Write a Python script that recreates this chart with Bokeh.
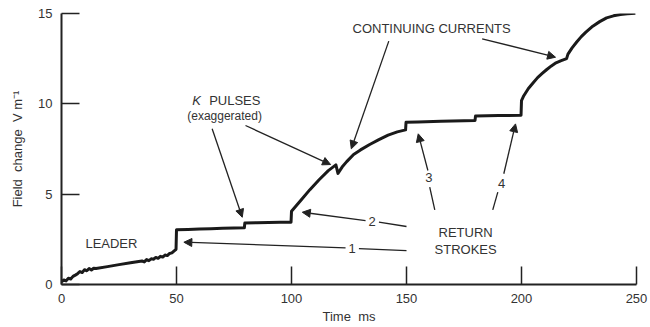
from bokeh.plotting import figure
from bokeh.models import Label, Arrow, NormalHead, Range1d, FixedTicker, ColumnDataSource
from bokeh.embed import file_html
from bokeh.resources import INLINE

# ---- data -------------------------------------------------------------
time_ms = [0, 1, 2, 3, 4, 5, 6, 7, 8, 9, 10, 11, 12, 13, 14, 15, 20, 25, 30, 35,
           36, 37, 38, 39, 40, 41, 42, 43, 44, 45, 46, 47, 48, 49, 49.8,
           50, 55, 60, 65, 70, 75, 79.5,
           79.7, 85, 90, 95, 99.8,
           100, 104, 108, 112, 116, 119.3,
           120.2, 122, 124, 127, 130, 134, 138, 142, 146, 149.6,
           149.8, 155, 165, 175, 179.8,
           180, 190, 199.8,
           200, 201, 203, 205, 207, 209, 211, 213, 215, 217, 219.6,
           220.2, 222, 224, 226, 228, 231, 234, 237, 240, 243, 246, 249.5]
field_vm = [0.15, 0.25, 0.2, 0.35, 0.3, 0.45, 0.52, 0.6, 0.72, 0.66, 0.82, 0.76, 0.88, 0.8, 0.9, 0.88, 0.99, 1.1, 1.2, 1.3,
            1.25, 1.38, 1.32, 1.42, 1.4, 1.5, 1.45, 1.56, 1.52, 1.63, 1.6, 1.72, 1.75, 1.86, 1.95,
            3.03, 3.05, 3.07, 3.09, 3.11, 3.13, 3.14,
            3.4, 3.42, 3.43, 3.44, 3.45,
            4.05, 4.65, 5.25, 5.8, 6.3, 6.62,
            6.15, 6.5, 6.8, 7.2, 7.45, 7.75, 8.02, 8.27, 8.45, 8.56,
            8.98, 9.0, 9.04, 9.06, 9.08,
            9.32, 9.35, 9.37,
            10.18, 10.45, 10.85, 11.15, 11.45, 11.68, 11.9, 12.1, 12.27, 12.38, 12.5,
            12.75, 13.1, 13.42, 13.72, 13.97, 14.3, 14.55, 14.76, 14.87, 14.94, 14.98, 15.02]

x_ticks = [0, 50, 100, 150, 200, 250]
y_ticks = [0, 5, 10, 15]

FONT = "Liberation Sans"
INK = "#222222"
TXT = "#333333"

p = figure(width=650, height=327, output_backend="svg", toolbar_location=None,
           x_range=Range1d(0, 250), y_range=Range1d(0, 15),
           min_border_left=61, min_border_right=14, min_border_top=13, min_border_bottom=43)
p.outline_line_color = None
p.grid.visible = False
p.background_fill_color = "white"
p.border_fill_color = "white"

for ax, ticks in ((p.xaxis, x_ticks), (p.yaxis, y_ticks)):
    ax.ticker = FixedTicker(ticks=ticks)
    ax.major_tick_in = 18
    ax.major_tick_out = 0
    ax.minor_tick_line_color = None
    ax.axis_line_width = 2
    ax.axis_line_color = INK
    ax.major_tick_line_width = 1.5
    ax.major_tick_line_color = INK
    ax.major_label_text_font = FONT
    ax.major_label_text_font_size = "13px"
    ax.major_label_text_color = TXT
    ax.axis_label_text_font = FONT
    ax.axis_label_text_font_size = "13px"
    ax.axis_label_text_font_style = "normal"
    ax.axis_label_text_color = TXT

p.xaxis.axis_label = "Time\u00a0\u00a0ms"
p.xaxis.major_label_standoff = 9
p.xaxis.axis_label_standoff = 3
p.yaxis.axis_label = "Field\u00a0\u00a0change\u00a0\u00a0V m\u207b\u00b9"
p.yaxis.major_label_standoff = 9
p.yaxis.axis_label_standoff = 10

src = ColumnDataSource(data=dict(t=time_ms, v=field_vm))
p.line("t", "v", source=src, line_width=3, line_color="#1a1a1a", line_join="round")


def label(x, y, text, size="13px", style="normal", align="center"):
    p.add_layout(Label(x=x, y=y, text=text, text_font=FONT, text_font_size=size,
                       text_font_style=style, text_color=TXT, text_align=align,
                       text_baseline="middle"))


def arrow(x0, y0, x1, y1, head=True):
    end = NormalHead(size=8, fill_color=INK, line_color=INK, line_width=1) if head else None
    p.add_layout(Arrow(x_start=x0, y_start=y0, x_end=x1, y_end=y1, end=end,
                       line_width=1.3, line_color=INK))


# texts
label(21.7, 2.27, "LEADER")
label(175.7, 2.88, "RETURN")
label(175.7, 1.94, "STROKES")
label(160.9, 14.15, "CONTINUING CURRENTS")
label(56.8, 10.18, "K", style="italic", align="left")
label(64.2, 10.18, "PULSES", align="left")
label(70.9, 9.30, "(exaggerated)", size="12px")
label(126.4, 2.01, "1")
label(135.1, 3.49, "2")
label(159.7, 5.94, "3")
label(191.3, 5.61, "4")

# return stroke arrows
arrow(123.5, 2.03, 53.2, 2.34)
arrow(129.3, 1.99, 150.0, 1.88, head=False)
arrow(132.2, 3.54, 104.7, 4.00)
arrow(138.0, 3.45, 150.0, 3.21, head=False)
arrow(159.3, 6.31, 155.1, 8.34)
arrow(160.1, 5.39, 162.3, 4.13, head=False)
arrow(192.3, 6.13, 197.4, 8.89)
arrow(189.7, 5.11, 187.5, 4.13, head=False)

# K pulse arrows
arrow(65.5, 8.62, 78.6, 3.72)
arrow(80.0, 8.80, 117.0, 6.64)

# continuing current arrows
arrow(142.3, 13.47, 126.0, 7.51)
arrow(182.9, 13.60, 214.8, 12.58)

open("out.html", "w").write(file_html(p, INLINE))
